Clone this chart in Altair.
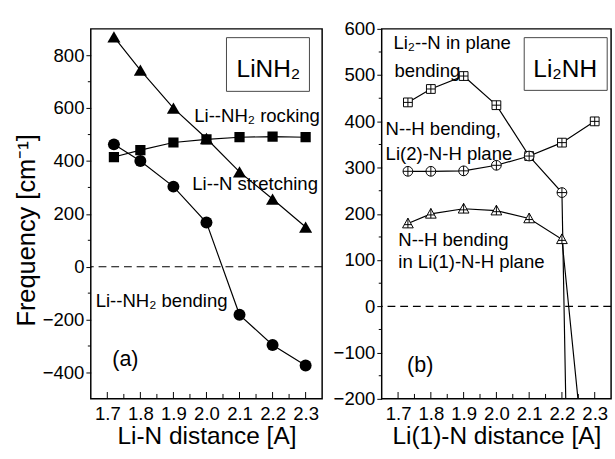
import altair as alt
import pandas as pd

# ---------------- data ----------------
left_x = [1.72, 1.80, 1.90, 2.00, 2.10, 2.20, 2.30]
left_stretching = [870, 744, 600, 485, 359, 256, 150]
left_rocking = [415, 441, 470, 482, 490, 492, 490]
left_bending = [463, 400, 303, 167, -182, -296, -374]

right_x = [1.73, 1.80, 1.90, 2.00, 2.10, 2.20, 2.30]
right_li2n = [441, 470, 498, 435, 325, 354, 400]
right_nh_li2 = [292, 292, 293, 305, 325, 246, -3600]
right_nh_li1 = [179, 200, 211, 207, 190, 145, -560]

x_major = [1.7, 1.8, 1.9, 2.0, 2.1, 2.2, 2.3]
x_minor = [1.75, 1.85, 1.95, 2.05, 2.15, 2.25]
left_y_major = [-400, -200, 0, 200, 400, 600, 800]
left_y_minor = [-300, -100, 100, 300, 500, 700]
right_y_major = [-200, -100, 0, 100, 200, 300, 400, 500, 600]
right_y_minor = [-150, -50, 50, 150, 250, 350, 450, 550]

left_labels = ["Li--NH\u2082 rocking", "Li--N stretching", "Li--NH\u2082 bending", "(a)", "LiNH\u2082"]
right_labels = ["Li\u2082--N in plane", "bending", "N--H bending,", "Li(2)-N-H plane",
                "N--H bending", "in Li(1)-N-H plane", "(b)", "Li\u2082NH"]

FONT = "Liberation Sans"
W1, W2, H = 237, 235, 379

SQ_PLUS = "M-1,-1H1V1H-1Z M0,-1V1 M-1,0H1"
CI_PLUS = "M-1,0A1,1,0,1,1,1,0A1,1,0,1,1,-1,0Z M-1,0H1 M0,-1V1"
TR_PLUS = "M0,-1L1,0.8L-1,0.8Z M0,-1V0.8 M-0.7,0.2H0.7"


def series(xs, ys):
    return pd.DataFrame({"x": xs, "y": ys})


def panel(width, xdom, ydom, ymajor, yminor, ytitle, xtitle, series_specs, texts, box):
    xs = alt.Scale(domain=xdom, nice=False, zero=False)
    ys = alt.Scale(domain=ydom, nice=False, zero=False)
    yaxis_kwargs = dict(values=ymajor, tickSize=5, grid=False, domain=False,
                        labelPadding=2, labelOverlap=False)
    if ytitle:
        yaxis = alt.Axis(title=ytitle, titlePadding=3, titleFontSize=26, titleY=206,
                         **yaxis_kwargs)
    else:
        yaxis = alt.Axis(title=None, **yaxis_kwargs)
    xaxis = alt.Axis(title=xtitle, values=x_major, ticks=False, grid=False, domain=False,
                     format=".1f", labelPadding=6, titlePadding=1, labelOverlap=False,
                     labelFlush=False, labelSeparation=0, labelBound=False)

    X = lambda f: alt.X(f, scale=xs, axis=xaxis)
    Y = lambda f: alt.Y(f, scale=ys, axis=yaxis)

    layers = []
    for xs_, ys_, markprops in series_specs:
        df = series(xs_, ys_)
        base = alt.Chart(df).encode(x=X("x:Q"), y=Y("y:Q"))
        layers.append(base.mark_line(color="black", strokeWidth=1.2, clip=True))
        layers.append(base.mark_point(clip=True, opacity=1, **markprops))

    # zero dashed line
    layers.append(alt.Chart(pd.DataFrame({"y": [0]})).mark_rule(
        color="black", strokeWidth=1.2, strokeDash=[8, 5]).encode(y=Y("y:Q")))
    # y minor ticks (outside)
    layers.append(alt.Chart(pd.DataFrame({"y": yminor})).mark_rule(
        color="black", strokeWidth=1).encode(y=Y("y:Q"), x=alt.value(-3), x2=alt.value(0)))
    # x ticks inward
    layers.append(alt.Chart(pd.DataFrame({"x": x_major})).mark_rule(
        color="black", strokeWidth=1).encode(x=X("x:Q"), y=alt.value(H - 7), y2=alt.value(H)))
    layers.append(alt.Chart(pd.DataFrame({"x": x_minor})).mark_rule(
        color="black", strokeWidth=1).encode(x=X("x:Q"), y=alt.value(H - 5), y2=alt.value(H)))

    # box
    bx1, by1, bx2, by2 = box
    layers.append(alt.Chart(pd.DataFrame({"a": [0]})).mark_rect(
        fill="white", fillOpacity=0, stroke="#444444", strokeWidth=1).encode(
        x=alt.value(bx1), x2=alt.value(bx2), y=alt.value(by1), y2=alt.value(by2)))

    for label, px, py, size, align in texts:
        layers.append(alt.Chart(pd.DataFrame({"t": [label]})).mark_text(
            font=FONT, fontSize=size, align=align, baseline="alphabetic", color="black").encode(
            text="t:N", x=alt.value(px), y=alt.value(py)))

    return alt.layer(*layers).properties(width=width, height=H)


left = panel(
    W1, [1.65, 2.35], [-500, 900], left_y_major, left_y_minor,
    "Frequency [cm\u207b\u00b9]", "Li-N distance [A]",
    [
        (left_x, left_rocking, dict(shape="square", filled=True, color="black", size=110)),
        (left_x, left_stretching, dict(shape="triangle-up", filled=True, color="black", size=180)),
        (left_x, left_bending, dict(shape="circle", filled=True, color="black", size=150)),
    ],
    [
        (left_labels[0], 106, 95, 19, "left"),
        (left_labels[1], 104, 165, 19, "left"),
        (left_labels[2], 5, 285, 19, "left"),
        (left_labels[3], 22, 345, 22, "left"),
        (left_labels[4], 182, 49, 25, "center"),
    ],
    (139, 9, 224, 64),
)

pt_open = dict(filled=False, color="black", strokeWidth=1, fill="white", fillOpacity=1)
right = panel(
    W2, [1.65, 2.35], [-200, 600], right_y_major, right_y_minor,
    None, "Li(1)-N distance [A]",
    [
        (right_x, right_li2n, dict(shape=SQ_PLUS, size=81, **pt_open)),
        (right_x, right_nh_li2, dict(shape=CI_PLUS, size=100, **pt_open)),
        (right_x, right_nh_li1, dict(shape=TR_PLUS, size=121, **pt_open)),
    ],
    [
        (right_labels[0], 12, 21, 19, "left"),
        (right_labels[1], 13, 49, 19, "left"),
        (right_labels[2], 4, 109, 19, "left"),
        (right_labels[3], 4, 134, 19, "left"),
        (right_labels[4], 17, 222, 19, "left"),
        (right_labels[5], 17, 245, 19, "left"),
        (right_labels[6], 26, 352, 22, "left"),
        (right_labels[7], 188, 49, 25, "center"),
    ],
    (146, 9, 231, 63),
)

chart = alt.hconcat(left, right, spacing=8).properties(
    padding={"left": 13, "top": 14, "right": 2, "bottom": 2},
    background="white",
).configure_view(stroke="black", strokeWidth=1.5).configure_axis(
    labelFont=FONT, titleFont=FONT, labelFontSize=19, titleFontSize=25,
    labelColor="black", titleColor="black", titleFontWeight="normal", tickColor="black",
    labelOverlap=False,
)

chart.save("out.html", embed_options={"renderer": "svg", "actions": False})
